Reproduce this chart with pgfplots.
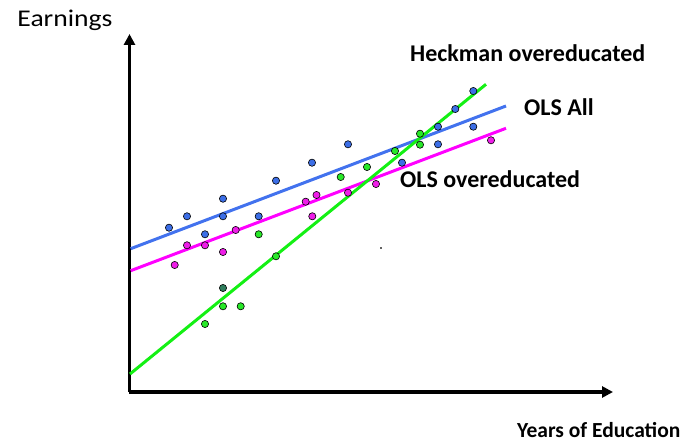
\documentclass[border=0pt]{standalone}
\usepackage{fontspec}
\setmainfont{Carlito}
\usepackage{pgfplots}
\pgfplotsset{compat=1.18}
\usetikzlibrary{arrows.meta}
\definecolor{blueL}{RGB}{66,114,238}
\definecolor{blueP}{RGB}{60,110,230}
\definecolor{magL}{RGB}{255,0,255}
\definecolor{magP}{RGB}{238,30,232}
\definecolor{greenL}{RGB}{20,240,20}
\definecolor{greenP}{RGB}{40,232,40}
\definecolor{tealP}{RGB}{46,125,92}
\begin{document}
\begin{tikzpicture}
\begin{axis}[
  scale only axis, width=483.5bp, height=358bp,
  xmin=129.5, xmax=613, ymin=53, ymax=411,
  axis lines*=left,
  axis line style={line width=3bp, -{Triangle[length=11bp,width=11bp]}},
  xtick=\empty, ytick=\empty, clip=false]
\coordinate (ll) at (axis cs:0,0);
\coordinate (ur) at (axis cs:686,445);
% regression lines
\addplot[blueL, line width=3bp] coordinates {(130.7,196.3) (506,339)};
\addplot[magL, line width=3bp] coordinates {(130.7,174.3) (506,316.7)};
\addplot[greenL, line width=3bp] coordinates {(130,71) (486,360.7)};
% points
\addplot[only marks, mark=*, mark size=3.6bp, mark options={fill=blueP, draw=black, line width=0.6bp}] coordinates {
(169,217.3) (187,228.7) (223,246.3) (223,228.7) (205,210.7) (258.7,228.7)
(276,264.3) (312,282.3) (348,300.7) (402,282.3) (438,300.7) (438,318.3)
(473.3,318.3) (455.3,336) (473.3,354)};
\addplot[only marks, mark=*, mark size=3.6bp, mark options={fill=magP, draw=black, line width=0.6bp}] coordinates {
(174.7,180) (187,199.7) (205,199.7) (223,193) (235.7,215) (305.7,243.3)
(316.5,250) (312.3,228.7) (348,252.3) (376,261) (491,304.7)};
\addplot[only marks, mark=*, mark size=3.6bp, mark options={fill=greenP, draw=black, line width=0.6bp}] coordinates {
(258.7,210.7) (276,188.7) (223,138.7) (240.7,138.7) (205,121) (340.7,268)
(367,278) (395,294) (420,311.3) (420,300.3)};
\addplot[only marks, mark=*, mark size=3.6bp, mark options={fill=tealP, draw=black, line width=0.6bp}] coordinates {(223,157)};
\addplot[only marks, mark=*, mark size=0.7bp, black] coordinates {(381,197)};
% labels
\node[anchor=base west, inner sep=0, font=\fontsize{24bp}{28bp}\selectfont] at (axis cs:17.3,418.3) {\scalebox{1.15}[1]{Earnings}};
\node[anchor=base west, inner sep=0, font=\fontsize{24bp}{28bp}\selectfont\bfseries] at (axis cs:410,383.3) {Heckman overeducated};
\node[anchor=base west, inner sep=0, font=\fontsize{24bp}{28bp}\selectfont\bfseries] at (axis cs:524,329) {OLS All};
\node[anchor=base west, inner sep=0, font=\fontsize{24bp}{28bp}\selectfont\bfseries] at (axis cs:400,257.7) {OLS overeducated};
\node[anchor=base west, inner sep=0, font=\fontsize{21.5bp}{26bp}\selectfont\bfseries] at (axis cs:517,7.5) {Years of Education};
\end{axis}
\path (ll) rectangle (ur);
\end{tikzpicture}
\end{document}
